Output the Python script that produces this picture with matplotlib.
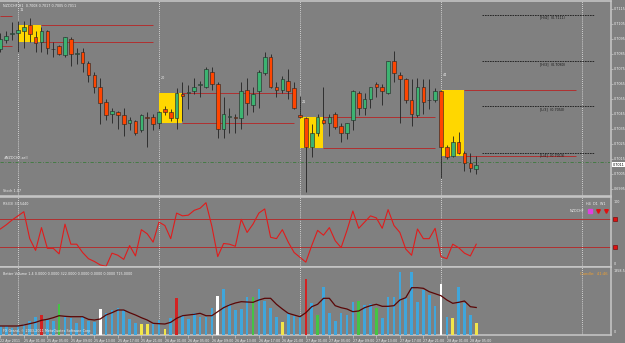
import numpy as np
import matplotlib.pyplot as plt
from matplotlib.patches import Rectangle
from matplotlib.transforms import blended_transform_factory

plt.rcParams['font.family'] = ['DejaVu Sans']

W, H = 625, 343
BG = "#808080"
FRAME = "#c8c8c8"
BULL = "#3cb371"
BEAR = "#ff4500"
GOLD = "#ffd700"
LEVEL = "#b03030"
TXT = "#f0f0f0"
FS = 2.4

# hourly bars, 0 = 25 Apr 00:00
bars = list(range(-3, 79))
opens = [0.7088, 0.7094, 0.7098, 0.7099, 0.7100, 0.7104, 0.7096, 0.7093, 0.7100, 0.7088,
         0.7090, 0.7084, 0.7095, 0.7085, 0.7086, 0.7079, 0.7071, 0.7063, 0.7053, 0.7045,
         0.7046, 0.7044, 0.7039, 0.7040, 0.7034, 0.7043, 0.7043, 0.7039, 0.7048, 0.7046,
         0.7042, 0.7058, 0.7059, 0.7060, 0.7064, 0.7063, 0.7073, 0.7065, 0.7035, 0.7043,
         0.7043, 0.7042, 0.7061, 0.7051, 0.7060, 0.7072, 0.7083, 0.7063, 0.7061, 0.7067,
         0.7062, 0.7044, 0.7042, 0.7023, 0.7032, 0.7041, 0.7039, 0.7045, 0.7037, 0.7032,
         0.7041, 0.7059, 0.7049, 0.7055, 0.7065, 0.7063, 0.7059, 0.7080, 0.7071, 0.7068,
         0.7054, 0.7044, 0.7063, 0.7054, 0.7054, 0.7060, 0.7023, 0.7017, 0.7026, 0.7019,
         0.7012, 0.7008]
highs = [0.7099, 0.7100, 0.7106, 0.7107, 0.7107, 0.7109, 0.7100, 0.7103, 0.7101, 0.7093,
         0.7091, 0.7096, 0.7096, 0.7089, 0.7089, 0.7080, 0.7073, 0.7069, 0.7055, 0.7049,
         0.7047, 0.7049, 0.7043, 0.7041, 0.7045, 0.7046, 0.7045, 0.7047, 0.7050, 0.7048,
         0.7062, 0.7066, 0.7064, 0.7069, 0.7067, 0.7076, 0.7076, 0.7066, 0.7056, 0.7049,
         0.7045, 0.7066, 0.7069, 0.7063, 0.7074, 0.7086, 0.7085, 0.7066, 0.7070, 0.7075,
         0.7066, 0.7057, 0.7043, 0.7038, 0.7045, 0.7063, 0.7045, 0.7046, 0.7039, 0.7039,
         0.7061, 0.7060, 0.7059, 0.7063, 0.7066, 0.7065, 0.7080, 0.7087, 0.7073, 0.7069,
         0.7068, 0.7069, 0.7068, 0.7068, 0.7062, 0.7061, 0.7024, 0.7030, 0.7033, 0.7020,
         0.7019, 0.7017]
lows = [0.7086, 0.7092, 0.7094, 0.7086, 0.7089, 0.7093, 0.7086, 0.7086, 0.7085, 0.7083,
        0.7084, 0.7083, 0.7077, 0.7078, 0.7073, 0.7066, 0.7059, 0.7038, 0.7041, 0.7039,
        0.7035, 0.7030, 0.7034, 0.7031, 0.7033, 0.7023, 0.7034, 0.7035, 0.7044, 0.7040,
        0.7035, 0.7040, 0.7048, 0.7058, 0.7056, 0.7062, 0.7061, 0.7029, 0.7029, 0.7032,
        0.7032, 0.7035, 0.7044, 0.7046, 0.7049, 0.7071, 0.7062, 0.7056, 0.7059, 0.7055,
        0.7048, 0.7042, 0.6993, 0.7016, 0.7030, 0.7038, 0.7030, 0.7035, 0.7026, 0.7028,
        0.7034, 0.7044, 0.7044, 0.7049, 0.7056, 0.7051, 0.7058, 0.7066, 0.7039, 0.7052,
        0.7037, 0.7043, 0.7045, 0.7048, 0.7053, 0.7002, 0.7015, 0.7016, 0.7018, 0.7007,
        0.7006, 0.7005]
closes = [0.7095, 0.7097, 0.7099, 0.7101, 0.7103, 0.7098, 0.7092, 0.7100, 0.7089, 0.7088,
          0.7085, 0.7096, 0.7085, 0.7085, 0.7079, 0.7071, 0.7063, 0.7052, 0.7044, 0.7047,
          0.7044, 0.7038, 0.7041, 0.7032, 0.7044, 0.7042, 0.7038, 0.7046, 0.7046, 0.7042,
          0.7059, 0.7057, 0.7059, 0.7063, 0.7065, 0.7075, 0.7065, 0.7035, 0.7045, 0.7043,
          0.7042, 0.7060, 0.7052, 0.7058, 0.7073, 0.7083, 0.7063, 0.7061, 0.7068, 0.7060,
          0.7049, 0.7043, 0.7023, 0.7032, 0.7043, 0.7039, 0.7043, 0.7036, 0.7032, 0.7039,
          0.7060, 0.7049, 0.7055, 0.7063, 0.7063, 0.7060, 0.7080, 0.7072, 0.7068, 0.7054,
          0.7045, 0.7063, 0.7053, 0.7054, 0.7060, 0.7023, 0.7016, 0.7026, 0.7019, 0.7012,
          0.7009, 0.7011]

rsi = [56, 62, 69, 75, 81, 42, 25, 58, 28, 28,
       20, 63, 34, 34, 22, 13, 9, 4, 2, 21,
       18, 12, 32, 17, 55, 49, 37, 66, 61, 42,
       79, 75, 76, 83, 86, 94, 60, 16, 35, 34,
       31, 70, 51, 63, 79, 85, 44, 42, 55, 37,
       22, 15, 8, 32, 54, 47, 58, 39, 29, 54,
       82, 57, 66, 75, 72, 57, 84, 61, 51, 27,
       18, 56, 42, 42, 57, 16, 13, 34, 29, 21,
       17, 34]

volumes = [234, 234, 190, 234, 278, 364, 460, 520, 390, 364,
           798, 476, 434, 304, 476, 364, 346, 676, 580, 650,
           694, 650, 408, 304, 278, 278, 304, 390, 156, 434,
           954, 520, 408, 564, 476, 476, 694, 1022, 1196, 798,
           650, 676, 996, 996, 1196, 884, 694, 476, 346, 564,
           502, 476, 1456, 824, 520, 1256, 564, 364, 564, 520,
           850, 892, 780, 798, 710, 450, 980, 980, 1646, 954,
           1630, 850, 1170, 1040, 762, 1318, 460, 450, 1256, 824,
           520, 322]
vol_avg = [234, 234, 234, 234, 260, 294, 330, 382, 408, 450,
           502, 486, 476, 476, 476, 408, 390, 416, 520, 580,
           650, 650, 580, 520, 450, 390, 304, 294, 286, 330,
           434, 502, 520, 538, 564, 502, 502, 606, 710, 780,
           832, 866, 858, 850, 910, 954, 954, 798, 676, 564,
           520, 476, 580, 736, 798, 954, 954, 762, 710, 676,
           606, 624, 710, 762, 798, 746, 746, 762, 910, 970,
           1230, 1230, 1214, 1126, 1074, 1022, 910, 824, 850, 884,
           736, 715]
# bars that Better Volume colours differently from the normal blue
vol_special = {4: "red", 7: "green", 14: "white", 21: "yellow", 22: "yellow",
               25: "yellow", 27: "red", 34: "white", 40: "green", 45: "yellow",
               49: "red", 51: "green", 58: "green", 61: "green", 72: "white",
               74: "yellow", 78: "yellow"}
vol_palette = {"blue": "#3fa6dc", "red": "#d42222", "green": "#44c444",
               "white": "#ffffff", "yellow": "#f2e64a"}

day_starts = [0, 24, 48, 72, 96]
box_start = [0, 24, 48, 72]
box_top = [0.7104, 0.7059, 0.7043, 0.7061]
box_bottom = [0.7093, 0.7039, 0.7022, 0.7017]
box_label = ["11", "20", "21", "44"]
prev_box_levels = [0.7110, 0.7090]

pivot_levels = [0.7111, 0.7080, 0.7050, 0.7019]
pivot_labels = ["[H/4]  (0.7111)", "[H/3]  (0.7080)", "[L/3]  (0.7050)", "[L/4]  (0.7019)"]
sell_price = 0.7013
last_price = 0.7011

price_ticks = [0.6995, 0.7005, 0.7015, 0.7025, 0.7035, 0.7045, 0.7055, 0.7065,
               0.7075, 0.7085, 0.7095, 0.7105, 0.7115]
time_ticks = [-3, 1, 5, 9, 13, 17, 21, 25, 29, 33, 37, 41, 45, 49, 53, 57, 61, 65, 69, 73, 77]
time_labels = ["22 Apr 2011", "25 Apr 01:00", "25 Apr 05:00", "25 Apr 09:00", "25 Apr 13:00",
               "25 Apr 17:00", "25 Apr 21:00", "26 Apr 01:00", "26 Apr 05:00", "26 Apr 09:00",
               "26 Apr 13:00", "26 Apr 17:00", "26 Apr 21:00", "27 Apr 01:00", "27 Apr 05:00",
               "27 Apr 09:00", "27 Apr 13:00", "27 Apr 17:00", "27 Apr 21:00", "28 Apr 01:00",
               "28 Apr 05:00"]


def px_rect(x0, y0, x1, y1):
    return [x0 / W, 1 - y1 / H, (x1 - x0) / W, (y1 - y0) / H]


fig = plt.figure(figsize=(W / 100, H / 100), dpi=100, facecolor=BG)
ax = fig.add_axes(px_rect(0, 1, 611, 196))
ax_rsi = fig.add_axes(px_rect(0, 196.5, 611, 267))
ax_vol = fig.add_axes(px_rect(0, 267, 611, 335))

for a in (ax, ax_rsi, ax_vol):
    a.set_facecolor(BG)
    a.set_xlim(-3.06, 100.94)
    a.spines["left"].set_visible(False)
    for s in ("top", "bottom", "right"):
        a.spines[s].set_color(FRAME)
        a.spines[s].set_linewidth(1.1)
    a.tick_params(axis="x", bottom=False, labelbottom=False)
    for d in day_starts:
        a.axvline(d, color="#ececec", lw=0.6, ls=(0, (1, 1.5)), zorder=1)

# ---- price window
x = np.array(bars)
o, hi, lo, c = map(np.array, (opens, highs, lows, closes))
up = c >= o

for s, top, bot, lab in zip(box_start, box_top, box_bottom, box_label):
    ax.add_patch(Rectangle((s, bot), 4, top - bot, facecolor=GOLD, edgecolor="none", zorder=2))
    ax.hlines([top, bot], s + 4, s + 23, color=LEVEL, lw=0.7, zorder=2)
    ax.text(s + 0.3, top + 0.0010, lab, color=TXT, fontsize=FS, va="center", zorder=5)
ax.hlines(prev_box_levels, -3.06, -1, color=LEVEL, lw=0.7, zorder=2)

ax.vlines(x, lo, hi, color="#222222", lw=0.6, zorder=3)
ax.bar(x, np.maximum(np.abs(c - o), 0.00002), bottom=np.minimum(o, c), width=0.62,
       color=np.where(up, BULL, BEAR), edgecolor="#222222", linewidth=0.4, zorder=4)

ax.hlines(pivot_levels, 79, 98, color="#1a1a1a", lw=0.6, ls=(0, (2, 1)), zorder=2)
for lev, lab in zip(pivot_levels, pivot_labels):
    ax.text(88.8, lev - 0.00008, lab, color="#1a1a1a", fontsize=FS, va="top", zorder=5)

ax.axhline(sell_price, color="#3d7a3d", lw=0.6, ls=(0, (4, 2, 1, 2)), zorder=2)
ax.text(-2.5, sell_price + 0.0001, "#NZDCHF,sell", color=TXT, fontsize=FS, va="bottom")
ax.text(-2.5, 0.69935, "Stoch 1.07", color=TXT, fontsize=FS, va="center")
ax.text(3 / 611, 0.985, "NZDCHF,H1  0.7008 0.7017 0.7005 0.7011", transform=ax.transAxes,
        color=TXT, fontsize=FS, va="top")

ax.set_ylim(0.69901, 0.71201)
ax.yaxis.tick_right()
ax.set_yticks(price_ticks)
ax.set_yticklabels(["%.4f" % p for p in price_ticks])
ax.tick_params(axis="y", length=1.5, width=0.5, color=FRAME, labelsize=FS, labelcolor=TXT, pad=0.8)
tr = blended_transform_factory(ax.transAxes, ax.transData)
ax.text(1.003, last_price, "0.7011", transform=tr, fontsize=FS, color="black", va="center",
        bbox=dict(boxstyle="square,pad=0.15", fc="white", ec="none"), clip_on=False)

# ---- RSI window
ax_rsi.plot(x, rsi, color="#e01c1c", lw=0.8, zorder=3)
ax_rsi.axhline(70, color=LEVEL, lw=0.7, zorder=2)
ax_rsi.axhline(30, color=LEVEL, lw=0.7, zorder=2)
ax_rsi.set_ylim(1, 103)
ax_rsi.set_yticks([])
ax_rsi.text(3 / 611, 0.92, "RSI(3) 33.5440", transform=ax_rsi.transAxes, color=TXT,
            fontsize=FS, va="top")
tr = blended_transform_factory(ax_rsi.transAxes, ax_rsi.transData)
ax_rsi.text(1.004, 95, "100", transform=tr, color=TXT, fontsize=FS, va="center")
ax_rsi.text(1.004, 5, "0", transform=tr, color=TXT, fontsize=FS, va="center")
ax_rsi.plot([1.007, 1.007], [70, 30], transform=tr, ls="none", marker="s", ms=3.2,
            color="#e01010", mec="#700000", mew=0.4, clip_on=False)
ax_rsi.text(586 / 611, 0.9, "H4  D1  W1", transform=ax_rsi.transAxes, color=TXT,
            fontsize=FS, va="center")
ax_rsi.text(584 / 611, 0.8, "NZDCHF", transform=ax_rsi.transAxes, color=TXT,
            fontsize=FS, va="center", ha="right")
ax_rsi.plot([589.5 / 611], [0.8], transform=ax_rsi.transAxes, marker="s", ms=2.2,
            color="#e040e0", clip_on=False)
ax_rsi.plot([597.5 / 611, 606 / 611], [0.8, 0.8], transform=ax_rsi.transAxes, ls="none",
            marker="v", ms=2.6, color="#e01010", clip_on=False)

# ---- Better Volume window
vol_colors = [vol_palette[vol_special.get(b, "blue")] for b in bars]
ax_vol.bar(x, volumes, width=0.45, color=vol_colors, zorder=3)
ax_vol.plot(x, vol_avg, color="#5a0606", lw=0.9, zorder=4)
ax_vol.set_ylim(0, 1768)
ax_vol.set_yticks([])
ax_vol.text(3 / 611, 0.93, "Better Volume 1.4 0.0000 0.0000 322.0000 0.0000 0.0000 0.0000 715.0000",
            transform=ax_vol.transAxes, color=TXT, fontsize=FS, va="top")
ax_vol.text(3 / 611, 0.06, "FX Grand, \u00a9 2003-2011 MetaQuotes Software Corp.",
            transform=ax_vol.transAxes, color=TXT, fontsize=FS, va="center")
ax_vol.text(608 / 611, 0.93, "Candle:  41:46", transform=ax_vol.transAxes, color="#f0a030",
            fontsize=2.7, va="top", ha="right")
ax_vol.text(1.004, 0.94, "1858.5", transform=ax_vol.transAxes, color=TXT, fontsize=FS, va="center")
ax_vol.text(1.004, 0.04, "0", transform=ax_vol.transAxes, color=TXT, fontsize=FS, va="center")

ax_vol.set_xticks(time_ticks)
ax_vol.set_xticklabels(time_labels, ha="left")
ax_vol.tick_params(axis="x", bottom=True, labelbottom=True, length=2.5, width=0.5, color=FRAME,
                   labelsize=2.3, labelcolor=TXT, pad=0.6)

fig.savefig("out.png", dpi=100, facecolor=BG)
